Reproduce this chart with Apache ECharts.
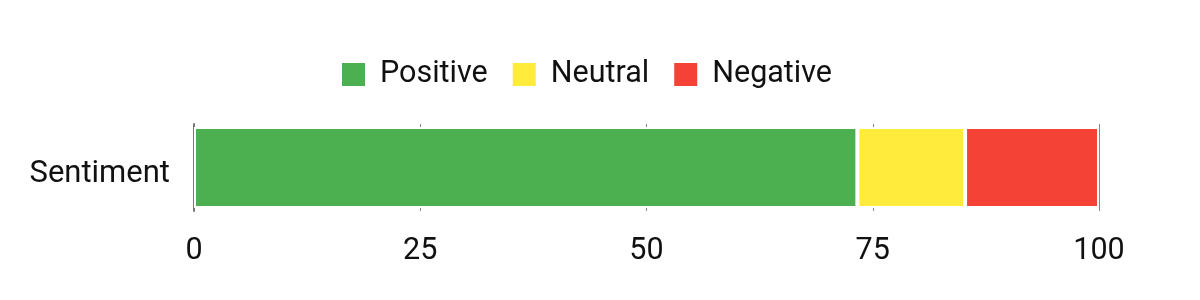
<!DOCTYPE html>
<html>
<head>
<meta charset="utf-8">
<script src="https://cdn.jsdelivr.net/npm/echarts@6/dist/echarts.min.js"></script>
<style>html,body{margin:0;padding:0;background:#fff;}#c{width:1200px;height:300px;}</style>
</head>
<body>
<div id="c"></div>
<script>
var categories = ['Sentiment'];
var seriesNames = ['Positive', 'Neutral', 'Negative'];
var positiveValues = [73.3];
var neutralValues = [11.9];
var negativeValues = [14.8];
var xTicks = [0, 25, 50, 75, 100];
var colors = ['#4CAF50', '#FFEB3B', '#F44336'];

var chart = echarts.init(document.getElementById('c'));
var dataSets = [positiveValues, neutralValues, negativeValues];
chart.setOption({
  animation: false,
  textStyle: { fontFamily: 'Roboto' },
  legend: {
    left: 340, top: 59, padding: 0,
    itemWidth: 25, itemHeight: 25, itemGap: 23,
    icon: 'rect',
    textStyle: { fontSize: 30.5, color: '#111', fontFamily: 'Roboto', padding: [0, 0, 0, 9] },
    data: seriesNames
  },
  grid: { left: 194, right: 101, top: 124, bottom: 89, containLabel: false },
  xAxis: {
    type: 'value', min: xTicks[0], max: xTicks[xTicks.length - 1], interval: 25,
    axisLine: { show: false }, axisTick: { show: false },
    splitLine: { show: true, lineStyle: { color: '#888', width: 1 } },
    axisLabel: { fontSize: 30.5, color: '#111', margin: 25, fontFamily: 'Roboto' }
  },
  yAxis: {
    type: 'category', data: categories,
    axisLine: { show: true, lineStyle: { color: '#777', width: 2 } },
    axisTick: { show: false },
    axisLabel: { fontSize: 31, color: '#111', margin: 24, fontFamily: 'Roboto', verticalAlign: 'top', lineHeight: 14 }
  },
  series: seriesNames.map(function (n, i) {
    return {
      name: n, type: 'bar', stack: 'total', barWidth: 81,
      itemStyle: { color: colors[i], borderColor: '#fff', borderWidth: 2 },
      data: dataSets[i]
    };
  })
});
</script>
</body>
</html>
